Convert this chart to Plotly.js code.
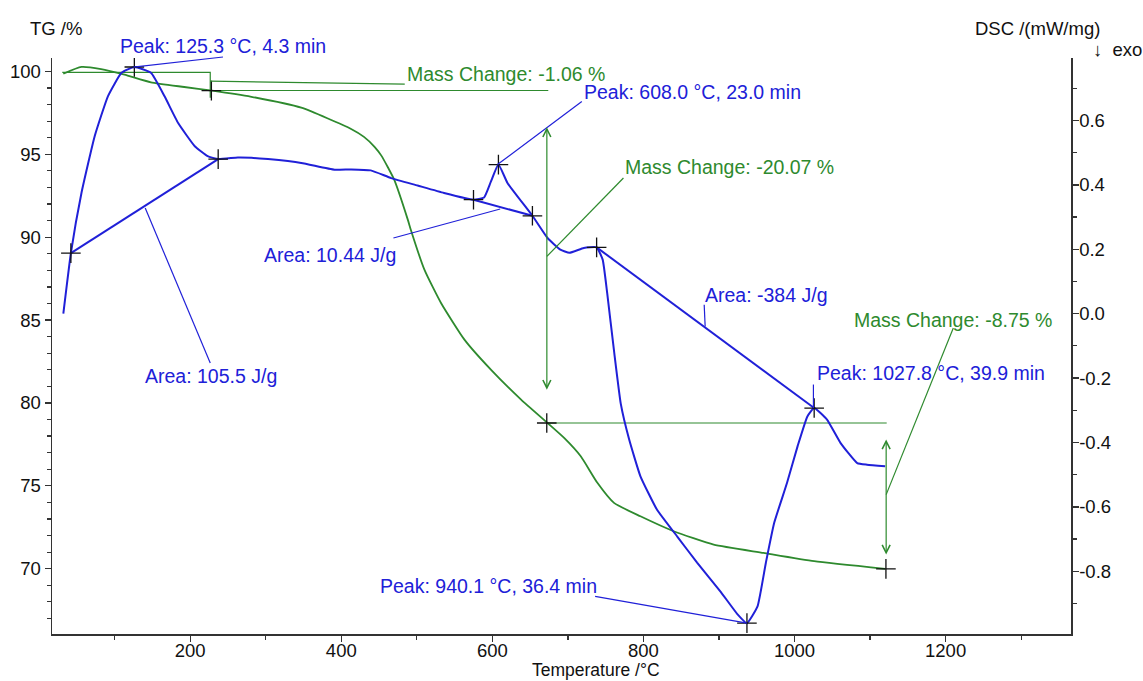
<!DOCTYPE html>
<html>
<head>
<meta charset="utf-8">
<script src="https://cdn.plot.ly/plotly-3.0.1.min.js"></script>
<style>html,body{margin:0;padding:0;background:#fff;}#chart{width:1143px;height:681px;}</style>
</head>
<body>
<div id="chart"></div>
<script>
// ---- Data ----
const tgTemp = [32, 56, 82, 113, 148, 192, 229, 281, 347, 413, 430, 444, 453, 470, 488, 492, 510, 532, 563, 598, 638, 673, 695, 717, 739, 761, 796, 840, 893, 959, 1026, 1120];
const tgMass = [99.86, 100.27, 100.14, 99.80, 99.34, 99.06, 98.84, 98.47, 97.81, 96.53, 96.05, 95.45, 94.92, 93.47, 91.06, 90.45, 88.04, 86.03, 83.82, 82.01, 80.20, 78.79, 77.89, 76.78, 75.18, 73.97, 73.16, 72.26, 71.45, 70.95, 70.45, 69.99];

const dscTemp = [32, 42, 56, 73.5, 91, 109, 126, 148, 166, 184, 206, 223, 237, 263, 281, 303, 347, 391, 413, 439, 466, 501, 536, 575, 589, 598, 608, 620, 653, 673, 690, 702, 721, 738, 746, 752, 761, 770, 781, 796, 818, 845, 871, 902, 924, 937, 951, 962, 973, 990, 1004, 1017, 1026, 1043, 1061, 1083, 1096, 1120];
const dscSignal = [0.0, 0.188, 0.375, 0.551, 0.675, 0.748, 0.766, 0.748, 0.675, 0.592, 0.520, 0.489, 0.480, 0.485, 0.484, 0.480, 0.468, 0.447, 0.448, 0.445, 0.421, 0.398, 0.375, 0.354, 0.361, 0.41, 0.463, 0.406, 0.304, 0.235, 0.199, 0.189, 0.204, 0.206, 0.168, 0.064, -0.115, -0.28, -0.39, -0.505, -0.609, -0.693, -0.773, -0.863, -0.932, -0.961, -0.909, -0.774, -0.650, -0.526, -0.412, -0.319, -0.293, -0.329, -0.402, -0.464, -0.469, -0.474];

// integration baselines (start / end points)
const base1Temp = [42, 237],   base1Val = [0.188, 0.480];
const base2Temp = [575, 653],  base2Val = [0.354, 0.304];
const base3Temp = [738, 1026], base3Val = [0.206, -0.293];

// evaluation markers
const dscMarkTemp = [42, 126, 237, 575, 608, 653, 738, 1026, 937];
const dscMarkVal  = [0.188, 0.766, 0.480, 0.354, 0.463, 0.304, 0.206, -0.293, -0.961];
const tgMarkTemp = [228, 672, 1121];
const tgMarkVal  = [98.84, 78.79, 69.99];

// mass-change step levels
const step1Temp = [30.6, 226.5, 226.5], step1Val = [99.94, 99.94, 98.41];
const level1Temp = [226.5, 674], level1Val = [98.85, 98.85];
const level2Temp = [672, 1122], level2Val = [78.79, 78.79];

// tick labels
const tgTicks = [70, 75, 80, 85, 90, 95, 100];
const dscTickVals = [-0.8, -0.6, -0.4, -0.2, 0.0, 0.2, 0.4, 0.6];
const dscTickText = ["-0.8", "-0.6", "-0.4", "-0.2", "0.0", "0.2", "0.4", "0.6"];
const tempTicks = [200, 400, 600, 800, 1000, 1200];

// ---- Styling ----
const BLUE = '#2020d8';
const GREEN = '#2e8a2e';
const FONT = 'Liberation Sans, Arial, Helvetica, sans-serif';
const FS = 19.5;
const TFS = 18.5;

const traces = [
  {x: tgTemp, y: tgMass, mode: 'lines', line: {color: GREEN, width: 1.8, shape: 'spline', smoothing: 0.5}, yaxis: 'y', hoverinfo: 'skip'},
  {x: step1Temp, y: step1Val, mode: 'lines', line: {color: GREEN, width: 1.2}, yaxis: 'y', hoverinfo: 'skip'},
  {x: level1Temp, y: level1Val, mode: 'lines', line: {color: GREEN, width: 1.2}, yaxis: 'y', hoverinfo: 'skip'},
  {x: level2Temp, y: level2Val, mode: 'lines', line: {color: GREEN, width: 1.2}, yaxis: 'y', hoverinfo: 'skip'},
  {x: dscTemp, y: dscSignal, mode: 'lines', line: {color: BLUE, width: 2, shape: 'spline', smoothing: 0.4}, yaxis: 'y2', hoverinfo: 'skip'},
  {x: base1Temp, y: base1Val, mode: 'lines', line: {color: BLUE, width: 2}, yaxis: 'y2', hoverinfo: 'skip'},
  {x: base2Temp, y: base2Val, mode: 'lines', line: {color: BLUE, width: 2}, yaxis: 'y2', hoverinfo: 'skip'},
  {x: base3Temp, y: base3Val, mode: 'lines', line: {color: BLUE, width: 2}, yaxis: 'y2', hoverinfo: 'skip'},
  {x: dscMarkTemp, y: dscMarkVal, mode: 'markers', marker: {symbol: 'cross-thin', size: 14, line: {color: '#111', width: 1.3}}, yaxis: 'y2', hoverinfo: 'skip'},
  {x: tgMarkTemp, y: tgMarkVal, mode: 'markers', marker: {symbol: 'cross-thin', size: 14, line: {color: '#111', width: 1.3}}, yaxis: 'y', hoverinfo: 'skip'}
];

function lead(x0, y0, x1, y1, color, yref) {
  return {type: 'line', xref: 'x', yref: yref, x0: x0, y0: y0, x1: x1, y1: y1, line: {color: color, width: 1.2}};
}
function label(text, x, y, color, yref) {
  return {text: text, x: x, y: y, xref: 'x', yref: yref, xanchor: 'left', yanchor: 'middle', showarrow: false, font: {family: FONT, size: FS, color: color}};
}
function dblArrow(x, yTop, yBot) {
  return {x: x, y: yBot, ax: x, ay: yTop, xref: 'x', yref: 'y', axref: 'x', ayref: 'y', text: '', showarrow: true,
          arrowside: 'end+start', arrowhead: 5, startarrowhead: 5, arrowsize: 1.3, startarrowsize: 1.3, arrowwidth: 1.2, arrowcolor: GREEN, standoff: 0, startstandoff: 0};
}

const shapes = [
  {type: 'line', xref: 'paper', yref: 'paper', x0: 0.0798, y0: 0.984, x1: 0.1678, y1: 1.0017, line: {color: BLUE, width: 1.2}},
  lead(606.7, 0.463, 718.4, 0.659, BLUE, 'y2'),
  lead(881.7, -0.040, 880.4, 0.028, BLUE, 'y2'),
  lead(1025, -0.293, 1025, -0.220, BLUE, 'y2'),
  lead(736, -0.878, 937, -0.961, BLUE, 'y2'),
  lead(469, 0.235, 610.3, 0.325, BLUE, 'y2'),
  lead(140.4, 0.328, 226.5, -0.153, BLUE, 'y2'),
  lead(226.5, 99.41, 484, 99.23, GREEN, 'y'),
  lead(672.1, 88.84, 773.5, 93.57, GREEN, 'y'),
  lead(1121.3, 74.47, 1210.2, 84.52, GREEN, 'y')
];

const annotations = [
  {text: 'Peak: 125.3 °C, 4.3 min', xref: 'paper', yref: 'paper', x: 0.0648, y: 1.0214, xanchor: 'left', yanchor: 'middle', showarrow: false, font: {family: FONT, size: FS, color: BLUE}},
  label('Peak: 608.0 °C, 23.0 min', 718, 0.689, BLUE, 'y2'),
  label('Area: -384 J/g', 879, 0.059, BLUE, 'y2'),
  label('Peak: 1027.8 °C, 39.9 min', 1027, -0.184, BLUE, 'y2'),
  label('Peak: 940.1 °C, 36.4 min', 449, -0.847, BLUE, 'y2'),
  label('Area: 10.44 J/g', 295, 0.181, BLUE, 'y2'),
  label('Area: 105.5 J/g', 138, -0.195, BLUE, 'y2'),
  label('Mass Change: -1.06 %', 484.6, 99.86, GREEN, 'y'),
  label('Mass Change: -20.07 %', 773, 94.23, GREEN, 'y'),
  label('Mass Change: -8.75 %', 1076, 85.02, GREEN, 'y'),
  dblArrow(672.1, 96.72, 80.80),
  dblArrow(1121.3, 77.89, 70.85),
  {text: 'TG /%', xref: 'paper', yref: 'paper', x: -0.0236, y: 1.052, xanchor: 'left', yanchor: 'middle', showarrow: false, font: {family: FONT, size: TFS, color: '#111'}},
  {text: 'DSC /(mW/mg)', xref: 'paper', yref: 'paper', x: 0.9035, y: 1.052, xanchor: 'left', yanchor: 'middle', showarrow: false, font: {family: FONT, size: TFS, color: '#111'}},
  {text: '↓  exo', xref: 'paper', yref: 'paper', x: 1.0195, y: 1.014, xanchor: 'left', yanchor: 'middle', showarrow: false, font: {family: FONT, size: TFS, color: '#111'}},
  {text: 'Temperature /°C', xref: 'paper', yref: 'paper', x: 0.534, y: -0.0628, xanchor: 'center', yanchor: 'middle', showarrow: false, font: {family: FONT, size: 17.5, color: '#111'}}
];

const axisCommon = {
  showline: true, linecolor: '#333', linewidth: 1.5, showgrid: false, zeroline: false,
  ticks: 'outside', ticklen: 6, tickwidth: 1.3, tickcolor: '#333',
  tickfont: {family: FONT, size: TFS, color: '#111'}
};

const layout = {
  width: 1143, height: 681,
  margin: {l: 52, r: 72, t: 58, b: 47, pad: 0},
  paper_bgcolor: '#fff', plot_bgcolor: '#fff',
  showlegend: false,
  font: {family: FONT, size: TFS, color: '#111'},
  xaxis: Object.assign({}, axisCommon, {
    range: [17, 1366], tickmode: 'array', tickvals: tempTicks, ticklabelstandoff: -7,
    minor: {tickmode: 'linear', tick0: 0, dtick: 100, ticks: 'outside', ticklen: 4, tickcolor: '#333', tickwidth: 1.2}
  }),
  yaxis: Object.assign({}, axisCommon, {
    range: [66.06, 100.81], tickmode: 'array', tickvals: tgTicks,
    minor: {tickmode: 'linear', tick0: 0, dtick: 1, ticks: 'outside', ticklen: 4, tickcolor: '#333', tickwidth: 1.2}
  }),
  yaxis2: Object.assign({}, axisCommon, {
    overlaying: 'y', side: 'right', anchor: 'x', ticklabelstandoff: -3,
    range: [-0.9947, 0.794], tickmode: 'array', tickvals: dscTickVals, ticktext: dscTickText,
    minor: {tickmode: 'linear', tick0: 0, dtick: 0.1, ticks: 'outside', ticklen: 4, tickcolor: '#333', tickwidth: 1.2}
  }),
  shapes: shapes,
  annotations: annotations
};

Plotly.newPlot('chart', traces, layout, {staticPlot: true, displayModeBar: false});
</script>
</body>
</html>
